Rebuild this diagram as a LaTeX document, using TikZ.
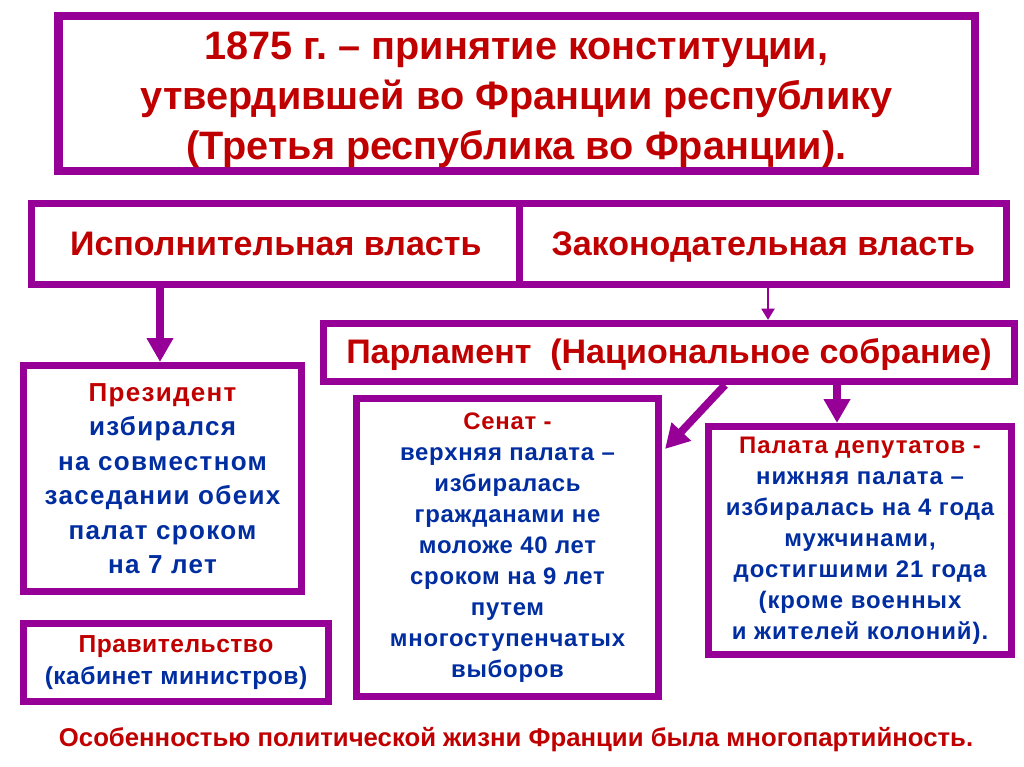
\documentclass[tikz,border=0pt]{standalone}
\usepackage{fontspec}
\setmainfont{Liberation Sans}
\usetikzlibrary{arrows.meta,calc}

\definecolor{boxpurple}{RGB}{150,0,150}
\definecolor{headred}{RGB}{192,0,0}
\definecolor{textblue}{RGB}{0,45,160}

\tikzset{
  box/.style={draw=boxpurple, line width=5pt, fill=white, inner sep=0pt,
    align=center, font=\bfseries},
  powertext/.style={font=\bfseries\fontsize{24.2}{28}\selectfont, text=headred,
    text height=22pt, text depth=6pt},
  bigarrow/.style={draw=boxpurple, line width=5.5pt,
    -{Triangle[width=18pt,length=17pt]}},
  thinarrow/.style={draw=boxpurple, line width=2pt,
    -{Triangle[width=9pt,length=8pt]}}
}

\newcommand{\red}[1]{\textcolor{headred}{#1}}
\newcommand{\blue}[1]{\textcolor{textblue}{#1}}
\newcommand{\spaced}[1]{\addfontfeature{LetterSpace=#1}}

\begin{document}
\begin{tikzpicture}[x=0.025cm,y=-0.025cm]

  \useasboundingbox (0,0) rectangle (1024,767);

  % title
  \node[box, line width=5.7pt, minimum width=916*0.025cm, minimum height=155*0.025cm]
    (title) at (516.5,93.5) {};
  \node[align=center, font=\bfseries\fontsize{28.2}{35.4}\selectfont, text=headred]
    (titletext) at ($(title.center)+(0,6)$)
    {1875 г.\ -- принятие конституции,\\
     утвердившей во Франции республику\\
     (Третья республика во Франции).};

  % two powers
  \node[box, powertext, minimum width=488*0.025cm, minimum height=81*0.025cm]
    (exec) at (275.75,244) {Исполнительная власть};
  \node[box, powertext, minimum width=487*0.025cm, minimum height=81*0.025cm]
    (legis) at (763.25,244) {Законодательная власть};

  % parliament
  \node[box, powertext, minimum width=691*0.025cm, minimum height=58*0.025cm]
    (parl) at (669,352.5) {Парламент\ \ (Национальное собрание)};

  % executive side
  \node[box, minimum width=278*0.025cm, minimum height=226*0.025cm,
    font=\bfseries\fontsize{18.5}{24.5}\selectfont\spaced{5}]
    (pres) at (162.5,478.5)
    {\red{Президент}\\ \blue{избирался}\\ \blue{на совместном}\\
     \blue{заседании обеих}\\ \blue{палат сроком}\\ \blue{на 7 лет}};
  \node[box, minimum width=305*0.025cm, minimum height=78*0.025cm,
    font=\bfseries\fontsize{17.5}{23}\selectfont\spaced{2}]
    (gov) at (176,662.5)
    {\red{Правительство}\\ \blue{(кабинет министров)}};

  % chambers
  \node[box, minimum width=302*0.025cm, minimum height=298*0.025cm,
    font=\bfseries\fontsize{17}{22}\selectfont\spaced{3}]
    (senate) at (507.5,547.5)
    {\red{Сенат -}\\ \blue{верхняя палата --}\\ \blue{избиралась}\\
     \blue{гражданами не}\\ \blue{моложе 40 лет}\\ \blue{сроком на 9 лет}\\
     \blue{путем}\\ \blue{многоступенчатых}\\ \blue{выборов}};
  \node[box, minimum width=303*0.025cm, minimum height=228*0.025cm,
    font=\bfseries\fontsize{17}{22}\selectfont\spaced{4}]
    (dep) at (860,540.5)
    {\red{Палата депутатов -}\\ \blue{нижняя палата --}\\
     \blue{избиралась на 4 года}\\ \blue{мужчинами,}\\
     \blue{достигшими 21 года}\\ \blue{(кроме военных}\\
     \blue{и жителей колоний).}};

  % arrows
  \draw[bigarrow] (160,0 |- exec.south) -- (160,0 |- pres.north);
  \draw[thinarrow] (768,0 |- legis.south) -- (768,0 |- parl.north);
  \draw[bigarrow] ($(parl.south)+(56,0)$) -- ($(senate.north east)+(3,54)$);
  \draw[bigarrow] (837,0 |- parl.south) -- (837,0 |- dep.north);

  % note
  \node[font=\bfseries\fontsize{18.3}{22}\selectfont, text=headred]
    (note) at (516,740)
    {Особенностью политической жизни Франции была многопартийность.};

\end{tikzpicture}
\end{document}
